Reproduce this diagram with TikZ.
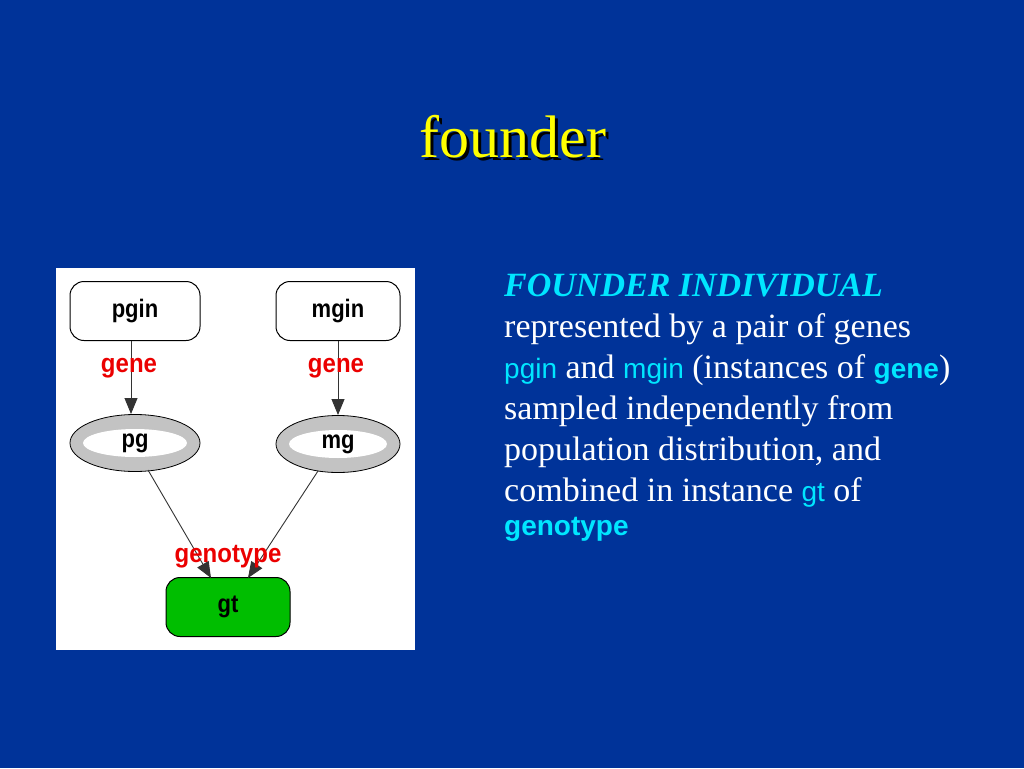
\documentclass[tikz,border=0pt]{standalone}
\usepackage{fontspec}
\setmainfont{Liberation Serif}
\setsansfont{Liberation Sans}
\usetikzlibrary{arrows.meta,shapes.geometric}
\definecolor{bgblue}{RGB}{0,51,153}
\definecolor{titleyellow}{RGB}{255,255,0}
\definecolor{cyantext}{RGB}{0,230,255}
\definecolor{redlabel}{RGB}{235,0,0}
\definecolor{ringgray}{RGB}{195,195,195}
\definecolor{gtgreen}{RGB}{0,190,0}
\newcommand{\tallt}[1]{\scalebox{1}[1.15]{#1}}
\tikzset{
  boxnode/.style={draw=black, line width=1pt, rounded corners=14pt, minimum width=130pt, minimum height=59pt, fill=white, font=\sffamily\bfseries\fontsize{22}{24}\selectfont},
  ringnode/.style={ellipse, draw=black, line width=0.8pt, fill=ringgray, minimum width=130pt, minimum height=57pt, inner sep=0pt},
  ringinner/.style={ellipse, fill=white, minimum width=104pt, minimum height=28pt, inner sep=0pt, font=\sffamily\bfseries\fontsize{22}{24}\selectfont},
  edge/.style={draw=black!80, line width=0.9pt, -{Triangle[length=16pt,width=13pt]}},
  redlab/.style={text=redlabel, font=\sffamily\bfseries\fontsize{24}{28}\selectfont, inner sep=0pt, anchor=base},
  bodytext/.style={anchor=base west, inner sep=0pt, text=white, font=\fontsize{34}{40}\selectfont}
}
\begin{document}
\begin{tikzpicture}[x=1pt,y=-1pt]
\useasboundingbox (0,0) rectangle (1024,768);
\fill[bgblue] (0,0) rectangle (1024,768);
% title
\node[text=black, font=\fontsize{60}{70}\selectfont, anchor=base, inner sep=0pt] (titleshadow) at (516,160) {founder};
\node[text=titleyellow, font=\fontsize{60}{70}\selectfont, anchor=base, inner sep=0pt] (title) at (513,157) {founder};
% diagram panel
\fill[white] (56,268) rectangle (415,650);
\node[boxnode] (pgin) at (135,311) {\tallt{pgin}};
\node[boxnode, minimum width=124pt] (mgin) at (338,311) {\tallt{mgin}};
\node[ringnode] (pg) at (135,443) {};
\node[ringinner] (pgi) at (135,443) {\tallt{pg}};
\node[ringnode, minimum width=124pt] (mg) at (338,444) {};
\node[ringinner, minimum width=98pt] (mgi) at (338,444) {\tallt{mg}};
\node[boxnode, fill=gtgreen, minimum width=124pt] (gt) at (228,607) {\tallt{gt}};
\coordinate (pgtop) at (131,414);
\coordinate (pginbot) at (131,341);
\coordinate (mgtop) at (338,415);
\coordinate (mginbot) at (338,341);
\coordinate (pgout) at (148,470);
\coordinate (mgout) at (318,471);
\coordinate (gtinl) at (211,578);
\coordinate (gtinr) at (248,578);
\draw[edge] (pginbot) -- (pgtop);
\draw[edge] (mginbot) -- (mgtop);
\draw[edge] (pgout) -- (gtinl);
\draw[edge] (mgout) -- (gtinr);
\node[redlab] (gene1) at (129,372) {\scalebox{1}[1.1]{gene}};
\node[redlab] (gene2) at (336,372) {\scalebox{1}[1.1]{gene}};
\node[redlab] (genotype) at (228,562) {\scalebox{1}[1.1]{genotype}};
% right text
\node[bodytext, text=cyantext, font=\bfseries\itshape\fontsize{34}{40}\selectfont] (l1) at (504,296) {FOUNDER INDIVIDUAL};
\node[bodytext] (l2) at (504,337) {represented by a pair of genes};
\node[bodytext] (l3) at (504,378) {{\sffamily\fontsize{28}{32}\selectfont\color{cyantext}pgin} and {\sffamily\fontsize{28}{32}\selectfont\color{cyantext}mgin} (instances of {\sffamily\bfseries\fontsize{28}{32}\selectfont\color{cyantext}gene})};
\node[bodytext] (l4) at (504,419) {sampled independently from};
\node[bodytext] (l5) at (504,460) {population distribution, and};
\node[bodytext] (l6) at (504,501) {combined in instance {\sffamily\fontsize{28}{32}\selectfont\color{cyantext}gt} of};
\node[bodytext, text=cyantext, font=\sffamily\bfseries\fontsize{28}{32}\selectfont] (l7) at (504,535) {genotype};
\end{tikzpicture}
\end{document}
